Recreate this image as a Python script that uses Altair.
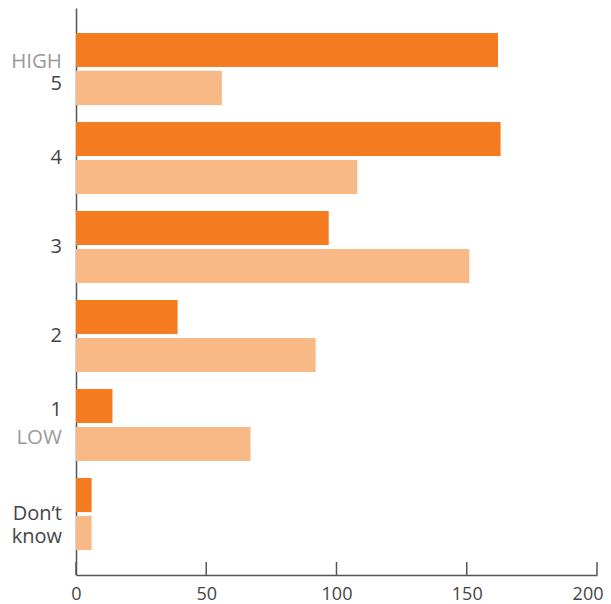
import altair as alt
import pandas as pd

categories = ["5", "4", "3", "2", "1", "Don’t know"]
series_names = ["Series A", "Series B"]
series_a = [162, 163, 97, 39, 14, 6]
series_b = [56, 108, 151, 92, 67, 6]
x_ticks = [0, 50, 100, 150, 200]
colors = ["#F47B20", "#F9B986"]

rows = []
for c, a, b in zip(categories, series_a, series_b):
    rows.append({"cat": c, "series": series_names[0], "value": a})
    rows.append({"cat": c, "series": series_names[1], "value": b})
df = pd.DataFrame(rows)

W, H = 521, 567
FONT = "Open Sans"

yscale = alt.Scale(domain=categories, paddingInner=0.19, paddingOuter=0.28)
xscale = alt.Scale(domain=[0, 200], nice=False)

bars = alt.Chart(df).mark_bar().encode(
    x=alt.X("value:Q", scale=xscale,
            axis=alt.Axis(values=x_ticks, title=None, grid=False, ticks=False,
                          labelPadding=10, labelFontSize=18, labelColor="#444",
                          labelFont=FONT, domainColor="#555", domainWidth=1.5,
                          labelFlush=False,
                          labelAlign={"condition": {"test": "datum.value === 200", "value": "right"},
                                      "value": "center"},
                          labelOffset={"condition": {"test": "datum.value === 200", "value": 6},
                                       "value": 0})),
    y=alt.Y("cat:N", scale=yscale, sort=categories,
            axis=alt.Axis(title=None, labels=False, ticks=False, domainColor="#555",
                          domainWidth=1.5)),
    yOffset=alt.YOffset("series:N", sort=series_names,
                        scale=alt.Scale(paddingInner=0.1, paddingOuter=0)),
    color=alt.Color("series:N", scale=alt.Scale(domain=series_names, range=colors),
                    legend=None),
)

tick_df = pd.DataFrame({"t": x_ticks})
ticks = alt.Chart(tick_df).mark_rule(color="#555", strokeWidth=1.5).encode(
    x=alt.X("t:Q", scale=xscale),
    y=alt.value(H - 13),
    y2=alt.value(H),
)

def label_layer(items, dy, color, size=20):
    d = pd.DataFrame({"cat": [i[0] for i in items], "txt": [i[1] for i in items]})
    return alt.Chart(d).mark_text(
        align="right", baseline="middle", dy=dy, fontSize=size, font=FONT,
        color=color, lineBreak="\n", lineHeight=23,
    ).encode(
        y=alt.Y("cat:N", scale=yscale, sort=categories),
        x=alt.value(-14),
        text="txt:N",
    )

mid_labels = label_layer([("4", "4"), ("3", "3"), ("2", "2"), ("Don’t know", "Don’t\nknow")], 0, "#444")
lab5 = label_layer([("5", "5")], 15, "#444")
lab1 = label_layer([("1", "1")], -15, "#444")
high = label_layer([("5", "HIGH")], -7, "#9a9a9a", 20.5)
low = label_layer([("1", "LOW")], 13, "#9a9a9a", 20.5)

chart = alt.layer(bars, ticks, mid_labels, lab5, lab1, high, low).properties(
    width=W, height=H,
    autosize=alt.AutoSizeParams(type="none"),
    padding={"left": 68, "top": 0, "right": 6, "bottom": 28},
).configure_view(stroke=None)

chart.save("out.html", embed_options={"renderer": "svg", "actions": False})
